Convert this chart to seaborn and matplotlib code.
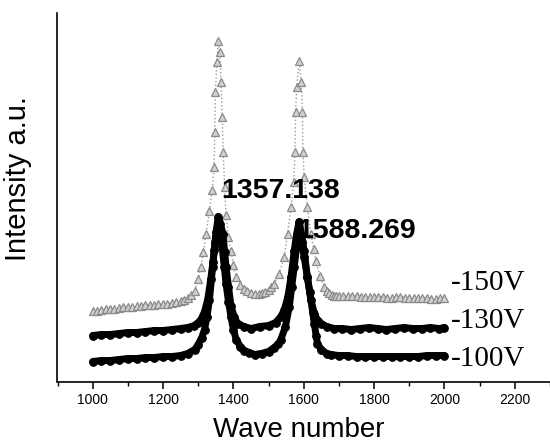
import numpy as np
import pandas as pd
import matplotlib
matplotlib.use("Agg")
import matplotlib.pyplot as plt
from matplotlib.ticker import MultipleLocator
import seaborn as sns

# ---- data (arbitrary intensity units) ----
wn_150 = [1000, 1012, 1025, 1037, 1050, 1062, 1075, 1087, 1100, 1112, 1125, 1137,
          1150, 1162, 1175, 1187, 1200, 1212, 1225, 1237, 1250, 1260, 1270, 1280,
          1290, 1300, 1308, 1315, 1322, 1332, 1340, 1345, 1347, 1349, 1353, 1357,
          1361, 1365, 1368, 1371, 1375, 1379, 1386, 1393, 1400, 1408, 1420, 1431,
          1440, 1450, 1462, 1474, 1482, 1490, 1500, 1508, 1516, 1530, 1545, 1554,
          1564, 1572, 1575, 1577, 1580, 1587, 1593, 1596, 1598, 1601, 1610, 1620,
          1628, 1635, 1645, 1658, 1665, 1672, 1679, 1686, 1693, 1700, 1712, 1725,
          1737, 1750, 1762, 1775, 1787, 1800, 1812, 1825, 1837, 1850, 1862, 1875,
          1887, 1900, 1912, 1925, 1937, 1950, 1962, 1975, 1987, 2000]
int_150 = [71, 71, 72, 73, 73, 73, 74, 75, 75, 75, 76, 76,
           77, 77, 77, 78, 78, 78, 79, 80, 81, 82, 84, 87,
           91, 103, 115, 130, 148, 171, 192, 215, 250, 290, 320, 341,
           330, 300, 265, 230, 195, 167, 145, 131, 117, 105, 97, 93,
           91, 89, 88, 88, 89, 90, 92, 95, 98, 108, 125, 148,
           175, 200, 230, 270, 295, 321, 300, 270, 230, 205, 175, 148,
           133, 121, 106, 95, 91, 89, 87, 86, 86, 86, 86, 86,
           86, 86, 85, 85, 85, 85, 85, 85, 84, 84, 85, 85,
           84, 84, 84, 84, 84, 84, 83, 83, 84, 84]

wn_130 = [1000, 1025, 1050, 1075, 1100, 1125, 1150, 1175, 1200, 1225, 1250, 1270,
          1289, 1300, 1308, 1318, 1327, 1336, 1342, 1346, 1351, 1357, 1363, 1370,
          1375, 1379, 1386, 1393, 1402, 1412, 1430, 1450, 1475, 1500, 1520, 1535,
          1545, 1555, 1564, 1573, 1580, 1587, 1594, 1601, 1610, 1620, 1630, 1640,
          1649, 1665, 1687, 1710, 1735, 1760, 1785, 1810, 1835, 1860, 1885, 1910,
          1935, 1960, 1985, 2000]
int_130 = [46, 47, 47, 48, 49, 49, 50, 51, 51, 52, 53, 54,
           56, 59, 62, 70, 82, 103, 120, 132, 150, 165, 158, 148,
           130, 115, 95, 76, 65, 58, 55, 53, 55, 56, 59, 65,
           72, 85, 105, 131, 148, 160, 147, 131, 105, 82, 68, 61,
           58, 55, 53, 53, 52, 53, 54, 53, 52, 53, 54, 53,
           53, 54, 53, 54]

wn_100 = [1000, 1025, 1050, 1075, 1100, 1125, 1150, 1175, 1200, 1225, 1250, 1270,
          1290, 1300, 1310, 1318, 1325, 1332, 1341, 1348, 1353, 1357, 1362, 1368,
          1374, 1379, 1386, 1393, 1400, 1408, 1420, 1431, 1445, 1460, 1480, 1500,
          1516, 1528, 1535, 1548, 1559, 1566, 1573, 1580, 1587, 1594, 1601, 1610,
          1617, 1625, 1630, 1635, 1639, 1650, 1665, 1677, 1700, 1725, 1750, 1775,
          1800, 1825, 1850, 1875, 1900, 1925, 1950, 1975, 2000]
int_100 = [20, 21, 21, 22, 23, 23, 24, 24, 25, 25, 26, 28,
           32, 37, 44, 52, 65, 82, 115, 140, 152, 158, 150, 135,
           115, 98, 80, 65, 52, 42, 35, 31, 29, 27, 28, 30,
           34, 38, 42, 55, 75, 95, 115, 135, 150, 140, 125, 105,
           90, 70, 58, 46, 38, 32, 28, 27, 26, 26, 25, 25,
           25, 25, 25, 25, 25, 25, 26, 26, 26]

series_labels = ["-150V", "-130V", "-100V"]
label_y = [99, 61, 23]
peak_labels = ["1357.138", "1588.269"]
peak_label_x = [1365, 1582]
peak_label_y = [191, 151]

df150 = pd.DataFrame({"wn": wn_150, "I": int_150})
df130 = pd.DataFrame({"wn": wn_130, "I": int_130})
df100 = pd.DataFrame({"wn": wn_100, "I": int_100})

# ---- figure ----
sns.set_style("ticks")
plt.rcParams["font.family"] = ["Liberation Sans", "DejaVu Sans"]
plt.rcParams["text.color"] = "black"
plt.rcParams["axes.labelcolor"] = "black"
plt.rcParams["xtick.color"] = "black"
plt.rcParams["xtick.labelcolor"] = "black"

fig = plt.figure(figsize=(5.5, 4.47), dpi=100)
ax = fig.add_axes([57.5 / 550, 1 - 381.5 / 447, 1 - 57.5 / 550, 369 / 447])

sns.lineplot(data=df150, x="wn", y="I", ax=ax, estimator=None, sort=True,
             color="#9a9a9a", linewidth=1.0, linestyle=":",
             marker="^", markersize=6, markerfacecolor="#d0d0d0",
             markeredgecolor="#8a8a8a", markeredgewidth=0.9)
sns.lineplot(data=df130, x="wn", y="I", ax=ax, estimator=None, sort=True,
             color="black", linewidth=5.0, marker="o", markersize=5.5,
             markeredgecolor="black")
sns.lineplot(data=df100, x="wn", y="I", ax=ax, estimator=None, sort=True,
             color="black", linewidth=5.0, marker="o", markersize=5.5,
             markeredgecolor="black")

ax.set_xlim(900, 2300)
ax.set_ylim(0, 369)
ax.set_yticks([])
ax.xaxis.set_major_locator(MultipleLocator(200))
ax.xaxis.set_minor_locator(MultipleLocator(100))
ax.tick_params(axis="x", which="major", direction="out", length=5, width=1.1,
               labelsize=10, pad=3, colors="black")
ax.tick_params(axis="x", which="minor", direction="out", length=3, width=1.0,
               colors="black")
for s in ["top", "right"]:
    ax.spines[s].set_visible(False)
for s in ["left", "bottom"]:
    ax.spines[s].set_linewidth(1.2)
    ax.spines[s].set_color("black")

ax.set_xlabel("Wave number", fontsize=20, va="center", color="black")
ax.xaxis.set_label_coords(0.489, -0.131)
ax.set_ylabel("Intensity a.u.", fontsize=21, va="center", color="black")
ax.yaxis.set_label_coords(-0.080, 0.549)

for txt, ly in zip(series_labels, label_y):
    ax.text(2017, ly, txt, fontsize=21, ha="left", va="center", color="black",
            family=["Liberation Serif", "DejaVu Serif"], clip_on=False)
for txt, px, py in zip(peak_labels, peak_label_x, peak_label_y):
    ax.text(px, py, txt, fontsize=20.5, fontweight="bold", ha="left",
            va="center", color="black")

fig.savefig("out.png", dpi=100)
